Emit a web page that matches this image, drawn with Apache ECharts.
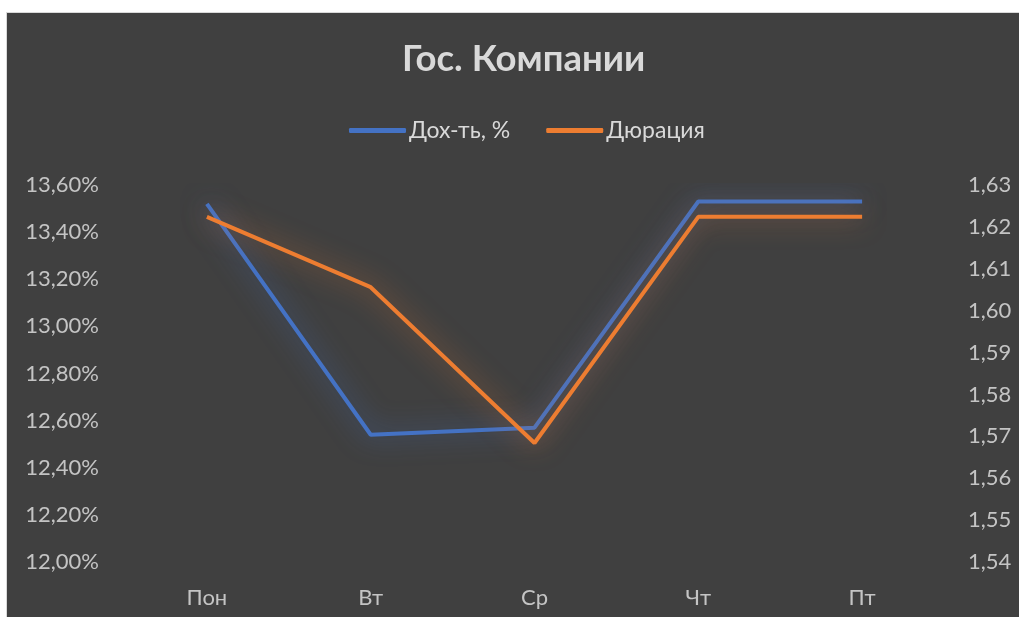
<!DOCTYPE html>
<html><head><meta charset="utf-8">
<script src="https://cdn.jsdelivr.net/npm/echarts@6/dist/echarts.min.js"></script>
<style>
html,body{margin:0;padding:0;background:#fff;width:1019px;height:617px;overflow:hidden}
#c{position:absolute;left:6px;top:12px;width:1013px;height:605px;border-left:1px solid #d9d9d9;border-top:1px solid #d9d9d9;box-sizing:border-box}
</style></head>
<body><div id="c"></div>
<script>
const categories = ['Пон','Вт','Ср','Чт','Пт'];
const yieldPct = [13.52, 12.54, 12.57, 13.53, 13.53];
const duration = [1.6224, 1.6056, 1.5684, 1.6224, 1.6224];
const seriesNames = ['Дох-ть, %', 'Дюрация'];
const title = 'Гос. Компании';

const font = 'Lato';
const chart = echarts.init(document.getElementById('c'));
chart.setOption({
  backgroundColor: '#404040',
  animation: false,
  title: {text: title, left: 390, top: 23,
    textStyle: {color: '#d9d9d9', fontSize: 36.5, fontWeight: 'bold', fontFamily: font}},
  legend: {top: 101, left: 337, itemWidth: 57, itemHeight: 5, itemGap: 36,
    icon: 'roundRect',
    textStyle: {color: '#d9d9d9', fontSize: 23, fontFamily: font, padding: [0, 0, 0, -2]},
    data: seriesNames},
  grid: {left: 118, right: 75, top: 172, bottom: 55},
  xAxis: {type: 'category', data: categories, boundaryGap: true,
    axisLine: {show: false}, axisTick: {show: false},
    axisLabel: {color: '#c4c4c4', fontSize: 22, fontFamily: font, margin: 25}},
  yAxis: [
    {type: 'value', min: 12.0, max: 13.6, interval: 0.2, splitLine: {show: false},
      axisLine: {show: false}, axisTick: {show: false},
      axisLabel: {color: '#c4c4c4', fontSize: 22, fontFamily: font, margin: 26,
        formatter: v => v.toFixed(2).replace('.', ',') + '%'}},
    {type: 'value', min: 1.54, max: 1.63, interval: 0.01, splitLine: {show: false},
      axisLine: {show: false}, axisTick: {show: false},
      axisLabel: {color: '#c4c4c4', fontSize: 22, fontFamily: font, margin: 24,
        formatter: v => v.toFixed(2).replace('.', ',')}}
  ],
  series: [
    {name: seriesNames[0], type: 'line', yAxisIndex: 0, data: yieldPct, symbol: 'none',
      itemStyle: {color: '#4472C4'},
      lineStyle: {width: 4, color: '#4472C4', shadowBlur: 26, shadowColor: 'rgba(68,114,196,0.8)'}},
    {name: seriesNames[1], type: 'line', yAxisIndex: 1, data: duration, symbol: 'none',
      itemStyle: {color: '#ED7D31'},
      lineStyle: {width: 4, color: '#ED7D31', shadowBlur: 26, shadowColor: 'rgba(237,125,49,0.7)'}}
  ]
});
</script></body></html>
